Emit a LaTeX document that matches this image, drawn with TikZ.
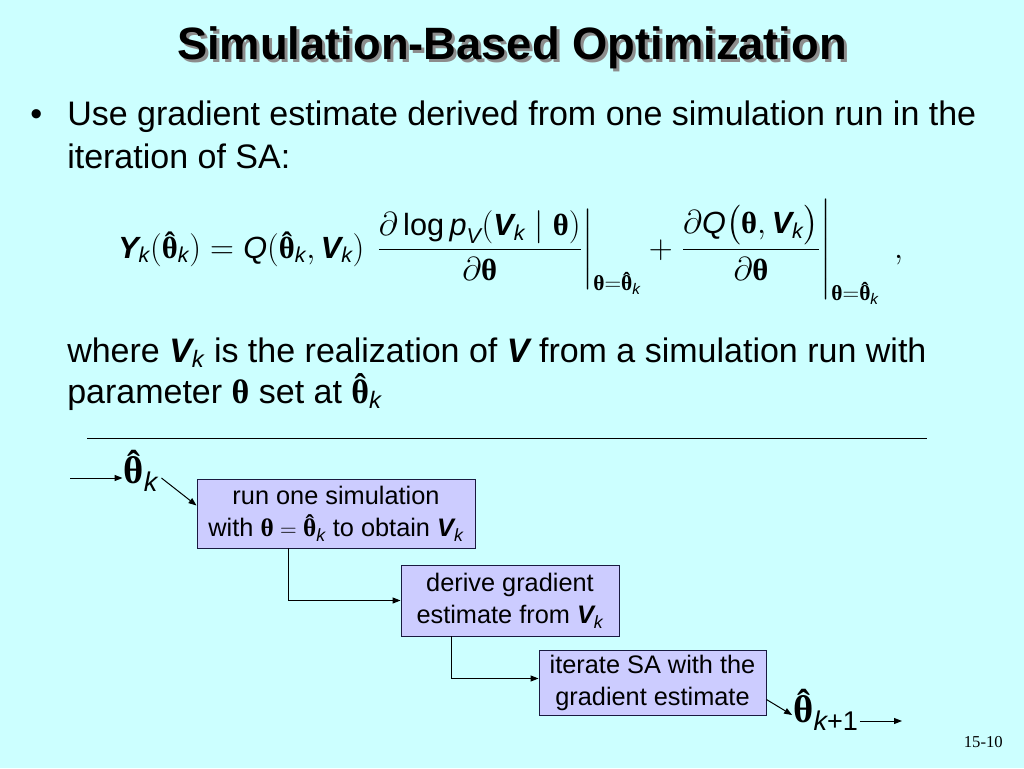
\documentclass[tikz,border=0pt]{standalone}
\usepackage{amsmath}
\usepackage{fontspec}
\setmainfont{Liberation Sans}
\newfontfamily\symf{Liberation Serif}
\usetikzlibrary{arrows.meta}
\definecolor{bgc}{HTML}{CCFFFF}
\definecolor{boxc}{HTML}{CCCCFF}
\definecolor{boxline}{HTML}{1A1A40}
\newcommand\bv[1]{\text{\bfseries\itshape #1}}
\newcommand\iv[1]{\text{\itshape #1}}
\newcommand\thg{{\symf\bfseries θ}}
\newcommand\tht{\text{\thg}}
\newcommand\that{\text{\ooalign{\thg\cr\hidewidth\raisebox{0.16em}{\symf\bfseries ˆ}\hidewidth\cr}}}
\tikzset{
  stepbox/.style={draw=boxline, fill=boxc, line width=0.7pt, align=center, inner sep=1.5pt,
     font=\fontsize{19}{24}\selectfont},
  conn/.style={line width=0.75pt, -{Triangle[length=6pt,width=4.5pt]}},
  bodytxt/.style={anchor=base west, inner sep=0pt, font=\fontsize{25.5}{30}\selectfont},
  thnode/.style={inner sep=0.75pt, font=\fontsize{29}{32}\selectfont},
  titletxt/.style={font=\fontsize{34}{40}\selectfont\bfseries}
}
\begin{document}
\begin{tikzpicture}[x=0.75pt,y=-0.75pt]
\useasboundingbox (0,0) rectangle (1024,768);
\fill[bgc] (0,0) rectangle (1024,768);
% title
\node[titletxt, text=black!45] (titleshadow) at (515,51) {Simulation-Based Optimization};
\node[titletxt, text=black] (title) at (512,48) {Simulation-Based Optimization};
% bullet text
\node[bodytxt] (bullet) at (30,125) {•};
\node[bodytxt] (l1) at (67,125) {Use gradient estimate derived from one simulation run in the};
\node[bodytxt] (l2) at (67,168) {iteration of SA:};
% equation
\node[anchor=base west, inner sep=0pt, font=\fontsize{23}{28}\selectfont] (eq) at (118,258)
 {$\displaystyle \bv{Y}_{\iv{k}}(\that_{\iv{k}}) = \iv{Q}(\that_{\iv{k}},\bv{V}_{\iv{k}})\,
 \left.\frac{\partial\,\text{log}\,\iv{p}_{\iv{V}}(\bv{V}_{\iv{k}}\mid\tht)}{\partial\tht}\right|_{\tht=\that_{\iv{k}}}
 + \left.\frac{\partial\iv{Q}\bigl(\tht,\bv{V}_{\iv{k}}\bigr)}{\partial\tht}\right|_{\tht=\that_{\iv{k}}}\;,$};
% where text
\node[bodytxt] (l3) at (67,362) {where $\bv{V}_{\iv{k}}$ is the realization of $\bv{V}$ from a simulation run with};
\node[bodytxt] (l4) at (67,403) {parameter $\tht$ set at $\that_{\iv{k}}$};
% rule
\coordinate (r1) at (87,438);
\coordinate (r2) at (927,438);
\draw[line width=0.75pt] (r1) -- (r2);
% diagram
\node[stepbox, minimum width=208.5pt, minimum height=51.75pt] (b1) at (336,513.5)
  {run one simulation\\with $\tht = \that_{\iv{k}}$ to obtain $\bv{V}_{\iv{k}}$};
\node[stepbox, minimum width=163.5pt, minimum height=53.25pt] (b2) at (510,600.5)
  {derive gradient\\estimate from $\bv{V}_{\iv{k}}$};
\node[stepbox, minimum width=170.25pt, minimum height=48.75pt] (b3) at (652.5,682.5)
  {iterate SA with the\\gradient estimate};
\node[thnode] (tk) at (141,474) {$\that_{\iv{k}}$};
\node[thnode] (tk1) at (826,713) {$\that_{\text{\itshape k\upshape +1}}$};
\coordinate (in) at (70,478);
\coordinate (out) at (902,720);
\coordinate (tkout) at ([xshift=1.5pt,yshift=-3pt]tk.east);
\coordinate (b1in) at ([yshift=6pt]b1.west);
\coordinate (b1out) at ([xshift=-36pt]b1.south);
\coordinate (b2out) at ([xshift=-44.25pt]b2.south);
\coordinate (b3in) at ([yshift=3pt]b3.west);
\coordinate (b3out) at ([yshift=-12.75pt]b3.east);
\coordinate (tk1in) at ([yshift=-1.5pt]tk1.west);
\coordinate (tk1out) at ([yshift=-6pt]tk1.east);
\draw[conn] (in) -- (tk.west |- in);
\draw[conn] (tkout) -- (b1in);
\draw[conn] (b1out) |- (b2.west);
\draw[conn] (b2out) |- (b3in);
\draw[conn] (b3out) -- (tk1in);
\draw[conn] (tk1out) -- (tk1out -| out);
% page number
\node[anchor=base east, inner sep=0pt, font=\symf\fontsize{12.5}{14}\selectfont] (pg) at (1003,747) {15-10};
\end{tikzpicture}
\end{document}
